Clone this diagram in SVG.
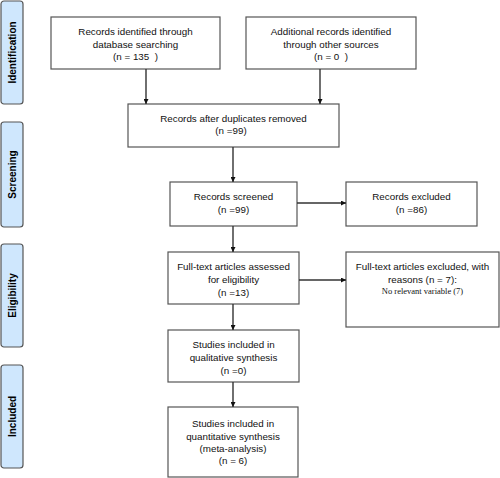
<svg xmlns="http://www.w3.org/2000/svg" width="500" height="478" viewBox="0 0 500 478">
<defs>
<marker id="ah" viewBox="0 0 10 10" refX="10" refY="5" markerWidth="5" markerHeight="5" orient="auto" markerUnits="userSpaceOnUse">
<path d="M0,0 L10,5 L0,10 z" fill="#111"/>
</marker>
<style>
.box{fill:#fff;stroke:#555;stroke-width:1.2}
.side{fill:#cfe7fd;stroke:#555;stroke-width:1.2}
.t{font-family:"Liberation Sans",Arial,sans-serif;font-size:9.8px;fill:#111;text-anchor:middle}
.s{font-family:"Liberation Sans",Arial,sans-serif;font-size:10px;font-weight:bold;fill:#000;text-anchor:middle}
.r{font-family:"Liberation Serif","Times New Roman",serif;font-size:8.5px;fill:#111;text-anchor:middle}
.c{stroke:#333;stroke-width:1.4;fill:none;marker-end:url(#ah)}
</style>
</defs>
<rect width="500" height="478" fill="#fff"/>
<g id="phase-identification"><rect class="side" x="1" y="1" width="22" height="103" rx="3"/><text class="s" transform="translate(15.5,52.5) rotate(-90)">Identification</text></g>
<g id="phase-screening"><rect class="side" x="1" y="122" width="22" height="105" rx="3"/><text class="s" transform="translate(15.5,174.5) rotate(-90)">Screening</text></g>
<g id="phase-eligibility"><rect class="side" x="1" y="244" width="22" height="103" rx="3"/><text class="s" transform="translate(15.5,295.5) rotate(-90)">Eligibility</text></g>
<g id="phase-included"><rect class="side" x="1" y="365" width="22" height="103" rx="3"/><text class="s" transform="translate(15.5,416.5) rotate(-90)">Included</text></g>

<g id="db-search"><rect class="box" x="51" y="17" width="169" height="52"/>
<text class="t" x="135.5" y="35">Records identified through</text>
<text class="t" x="135.5" y="47.5">database searching</text>
<text class="t" x="135.5" y="60" xml:space="preserve">(n = 135  )</text></g>

<g id="other-sources"><rect class="box" x="246" y="17" width="170" height="52"/>
<text class="t" x="331" y="35">Additional records identified</text>
<text class="t" x="331" y="47.5">through other sources</text>
<text class="t" x="331" y="60" xml:space="preserve">(n = 0  )</text></g>

<g id="dup-removed"><rect class="box" x="128" y="104" width="211" height="43"/>
<text class="t" x="233.5" y="121.5">Records after duplicates removed</text>
<text class="t" x="231" y="134">(n =99)</text></g>

<g id="screened"><rect class="box" x="170" y="182" width="127" height="44"/>
<text class="t" x="233.5" y="200">Records screened</text>
<text class="t" x="233.5" y="213">(n =99)</text></g>

<g id="excluded"><rect class="box" x="346" y="182" width="131" height="44"/>
<text class="t" x="411.5" y="200">Records excluded</text>
<text class="t" x="411.5" y="213">(n =86)</text></g>

<g id="fulltext"><rect class="box" x="168" y="252" width="131" height="52"/>
<text class="t" x="233.5" y="269.5">Full-text articles assessed</text>
<text class="t" x="233.5" y="282.5">for eligibility</text>
<text class="t" x="233.5" y="295.5">(n =13)</text></g>

<g id="fulltext-excluded"><rect class="box" x="346" y="252" width="153" height="75"/>
<text class="t" x="422.5" y="270">Full-text articles excluded, with</text>
<text class="t" x="422.5" y="283">reasons (n = 7):</text>
<text class="r" x="422.5" y="293.5">No relevant variable (7)</text></g>

<g id="qualitative"><rect class="box" x="168" y="330" width="131" height="52"/>
<text class="t" x="233.5" y="348">Studies included in</text>
<text class="t" x="233.5" y="361">qualitative synthesis</text>
<text class="t" x="233.5" y="374">(n =0)</text></g>

<g id="quantitative"><rect class="box" x="168" y="407" width="130" height="70"/>
<text class="t" x="233" y="426.5">Studies included in</text>
<text class="t" x="233" y="439.5">quantitative synthesis</text>
<text class="t" x="233" y="451.5">(meta-analysis)</text>
<text class="t" x="233" y="464">(n = 6)</text></g>

<g id="connectors">
<line class="c" x1="146" y1="69" x2="146" y2="104"/>
<line class="c" x1="320" y1="69" x2="320" y2="104"/>
<line class="c" x1="233" y1="147" x2="233" y2="182"/>
<line class="c" x1="297" y1="203" x2="346" y2="203"/>
<line class="c" x1="233" y1="226" x2="233" y2="252"/>
<line class="c" x1="299" y1="280" x2="346" y2="280"/>
<line class="c" x1="233" y1="304" x2="233" y2="330"/>
<line class="c" x1="233" y1="382" x2="233" y2="407"/>
</g>
</svg>
